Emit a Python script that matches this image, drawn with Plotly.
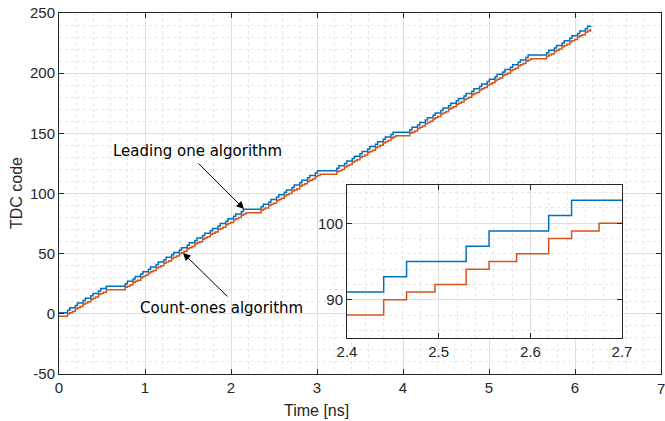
import plotly.graph_objects as go

# ---- data (step times in ns, TDC codes after each step) ----
blue_t = [0.000,
          0.100, 0.125, 0.190, 0.215, 0.280, 0.305, 0.370, 0.395, 0.460, 0.485, 0.550,
          0.770, 0.795, 0.860, 0.885, 0.950, 0.975, 1.040, 1.065, 1.130, 1.155,
          1.220, 1.245, 1.310, 1.335, 1.400, 1.425, 1.490, 1.515, 1.580, 1.605,
          1.670, 1.695, 1.760, 1.785, 1.850, 1.875, 1.940, 1.965, 2.030, 2.055,
          2.120, 2.145,
          2.350, 2.375, 2.440, 2.465, 2.530, 2.555, 2.620, 2.645, 2.710, 2.735,
          2.800, 2.825, 2.890, 2.915, 2.980, 3.005,
          3.230, 3.255, 3.320, 3.345, 3.410, 3.435, 3.500, 3.525, 3.590, 3.615,
          3.680, 3.705, 3.770, 3.795, 3.860, 3.885,
          4.080, 4.105, 4.170, 4.195, 4.260, 4.285, 4.350, 4.375, 4.440, 4.465,
          4.530, 4.555, 4.620, 4.645, 4.710, 4.735, 4.800, 4.825, 4.890, 4.915,
          4.980, 5.005, 5.070, 5.095, 5.160, 5.185, 5.250, 5.275, 5.340, 5.365,
          5.430, 5.455,
          5.670, 5.695, 5.760, 5.785, 5.850, 5.875, 5.940, 5.965, 6.030, 6.055,
          6.120, 6.145, 6.190]
blue_code = [1,
             3, 5, 7, 9, 11, 13, 15, 17, 19, 21, 23,
             25, 27, 29, 31, 33, 35, 37, 39, 41, 43,
             45, 47, 49, 51, 53, 55, 57, 59, 61, 63,
             65, 67, 69, 71, 73, 75, 77, 79, 81, 83,
             85, 87,
             89, 91, 93, 95, 97, 99, 101, 103, 105, 107,
             109, 111, 113, 115, 117, 119,
             121, 123, 125, 127, 129, 131, 133, 135, 137, 139,
             141, 143, 145, 147, 149, 151,
             153, 155, 157, 159, 161, 163, 165, 167, 169, 171,
             173, 175, 177, 179, 181, 183, 185, 187, 189, 191,
             193, 195, 197, 199, 201, 203, 205, 207, 209, 211,
             213, 215,
             217, 219, 221, 223, 225, 227, 229, 231, 233, 235,
             237, 239, 239]

orange_t = [0.000,
            0.100, 0.125, 0.156, 0.190, 0.215, 0.246, 0.280, 0.305, 0.336,
            0.370, 0.395, 0.426, 0.460, 0.485, 0.516, 0.550,
            0.770, 0.795, 0.826, 0.860, 0.885, 0.916, 0.950, 0.975, 1.006,
            1.040, 1.065, 1.096, 1.130, 1.155, 1.186, 1.220, 1.245, 1.276,
            1.310, 1.335, 1.366, 1.400, 1.425, 1.456, 1.490, 1.515, 1.546,
            1.580, 1.605, 1.636, 1.670, 1.695, 1.726, 1.760, 1.785, 1.816,
            1.850, 1.875, 1.906, 1.940, 1.965, 1.996, 2.030, 2.055, 2.086,
            2.120, 2.145, 2.176,
            2.350, 2.375, 2.396, 2.440, 2.465, 2.496, 2.530, 2.555, 2.585,
            2.620, 2.645, 2.675, 2.710, 2.735, 2.766, 2.800, 2.825, 2.856,
            2.890, 2.915, 2.946, 2.980, 3.005, 3.036,
            3.230, 3.255, 3.286, 3.320, 3.345, 3.376, 3.410, 3.435, 3.466,
            3.500, 3.525, 3.556, 3.590, 3.615, 3.646, 3.680, 3.705, 3.736,
            3.770, 3.795, 3.826, 3.860, 3.885, 3.916,
            4.080, 4.105, 4.136, 4.170, 4.195, 4.226, 4.260, 4.285, 4.316,
            4.350, 4.375, 4.406, 4.440, 4.465, 4.496, 4.530, 4.555, 4.586,
            4.620, 4.645, 4.676, 4.710, 4.735, 4.766, 4.800, 4.825, 4.856,
            4.890, 4.915, 4.946, 4.980, 5.005, 5.036, 5.070, 5.095, 5.126,
            5.160, 5.185, 5.216, 5.250, 5.275, 5.306, 5.340, 5.365, 5.396,
            5.430, 5.455, 5.486,
            5.670, 5.695, 5.726, 5.760, 5.785, 5.816, 5.850, 5.875, 5.906,
            5.940, 5.965, 5.996, 6.030, 6.055, 6.086, 6.120, 6.145, 6.176,
            6.190]
orange_code = [-2,
               0, 1, 2, 4, 5, 6, 8, 9, 10,
               12, 13, 14, 16, 17, 18, 20,
               22, 23, 24, 26, 27, 28, 30, 31, 32,
               34, 35, 36, 38, 39, 40, 42, 43, 44,
               46, 47, 48, 50, 51, 52, 54, 55, 56,
               58, 59, 60, 62, 63, 64, 66, 67, 68,
               70, 71, 72, 74, 75, 76, 78, 79, 80,
               82, 83, 84,
               86, 87, 88, 90, 91, 92, 94, 95, 96,
               98, 99, 100, 102, 103, 104, 106, 107, 108,
               110, 111, 112, 114, 115, 116,
               118, 119, 120, 122, 123, 124, 126, 127, 128,
               130, 131, 132, 134, 135, 136, 138, 139, 140,
               142, 143, 144, 146, 147, 148,
               150, 151, 152, 154, 155, 156, 158, 159, 160,
               162, 163, 164, 166, 167, 168, 170, 171, 172,
               174, 175, 176, 178, 179, 180, 182, 183, 184,
               186, 187, 188, 190, 191, 192, 194, 195, 196,
               198, 199, 200, 202, 203, 204, 206, 207, 208,
               210, 211, 212,
               214, 215, 216, 218, 219, 220, 222, 223, 224,
               226, 227, 228, 230, 231, 232, 234, 235, 236,
               236]

main_x_ticks = [0, 1, 2, 3, 4, 5, 6, 7]
main_y_ticks = [-50, 0, 50, 100, 150, 200, 250]
inset_x_ticks = [2.4, 2.5, 2.6, 2.7]
inset_y_ticks = [90, 100]

BLUE = "#0072BD"
ORANGE = "#D95319"
AX = "#262626"
W, H = 665, 421

fig = go.Figure()
for xa, ya in (("x", "y"), ("x2", "y2")):
    fig.add_trace(go.Scatter(x=blue_t, y=blue_code, mode="lines",
                             line=dict(color=BLUE, width=1.5, shape="hv"),
                             xaxis=xa, yaxis=ya, showlegend=False, hoverinfo="skip"))
    fig.add_trace(go.Scatter(x=orange_t, y=orange_code, mode="lines",
                             line=dict(color=ORANGE, width=1.5, shape="hv"),
                             xaxis=xa, yaxis=ya, showlegend=False, hoverinfo="skip"))

tick_font = dict(family="Liberation Sans, Arial, sans-serif", size=15, color=AX)

def axis(domain, rng, ticks, minor_dtick, anchor, labels=None):
    return dict(
        domain=domain, range=rng, anchor=anchor, automargin=False,
        tickmode="array", tickvals=ticks,
        ticktext=labels if labels is not None else [str(t) for t in ticks],
        ticks="inside", ticklen=5, tickwidth=1, tickcolor=AX,
        showline=True, linecolor=AX, linewidth=1, mirror="ticks",
        showgrid=True, gridcolor="#dedede", gridwidth=1,
        minor=dict(dtick=minor_dtick, showgrid=True, gridcolor="#e6e6e6",
                   griddash="dot", gridwidth=1, ticks=""),
        zeroline=False,
        tickfont=tick_font,
        fixedrange=True,
    )

fig.update_layout(
    width=W, height=H,
    margin=dict(l=0, r=0, t=0, b=0, autoexpand=False),
    paper_bgcolor="white", plot_bgcolor="white",
    xaxis=axis([59 / W, 661 / W], [0, 7], main_x_ticks, 0.2, "y"),
    yaxis=axis([47 / H, 408 / H], [-50, 250], main_y_ticks, 10, "x"),
    xaxis2=axis([347 / W, 622 / W], [2.4, 2.7], inset_x_ticks, 0.02, "y2",
                labels=["2.4", "2.5", "2.6", "2.7"]),
    yaxis2=axis([83 / H, 236 / H], [85, 105], inset_y_ticks, 2, "x2"),
)

ann_font = dict(family="DejaVu Sans, sans-serif", size=15, color="black")
title_font = dict(family="Liberation Sans, Arial, sans-serif", size=16, color=AX)

# last x tick label, partly cut by the figure edge as in the original
fig.add_annotation(text="7", xref="paper", yref="paper",
                   x=661 / W, y=1 - 388 / H, showarrow=False, font=tick_font,
                   xanchor="center", yanchor="middle")

fig.add_annotation(text="Time [ns]", xref="paper", yref="paper",
                   x=316 / W, y=1 - 410 / H, showarrow=False, font=title_font,
                   xanchor="center", yanchor="middle")
fig.add_annotation(text="TDC code", xref="paper", yref="paper",
                   x=16 / W, y=1 - 193 / H, showarrow=False, font=title_font,
                   textangle=-90, xanchor="center", yanchor="middle")

fig.add_annotation(text="Leading one algorithm", xref="x", yref="y",
                   x=1.616, y=135.3, showarrow=False, font=ann_font)
fig.add_annotation(text="", xref="x", yref="y", x=2.151, y=87.1,
                   axref="x", ayref="y", ax=1.605, ay=126.2,
                   showarrow=True, arrowhead=2, arrowsize=1.5, arrowwidth=1,
                   arrowcolor="black")
fig.add_annotation(text="Count-ones algorithm", xref="x", yref="y",
                   x=1.895, y=4.8, showarrow=False, font=ann_font)
fig.add_annotation(text="", xref="x", yref="y", x=1.442, y=50.5,
                   axref="x", ayref="y", ax=1.977, ay=13.1,
                   showarrow=True, arrowhead=2, arrowsize=1.5, arrowwidth=1,
                   arrowcolor="black")

fig.write_html("out.html")
